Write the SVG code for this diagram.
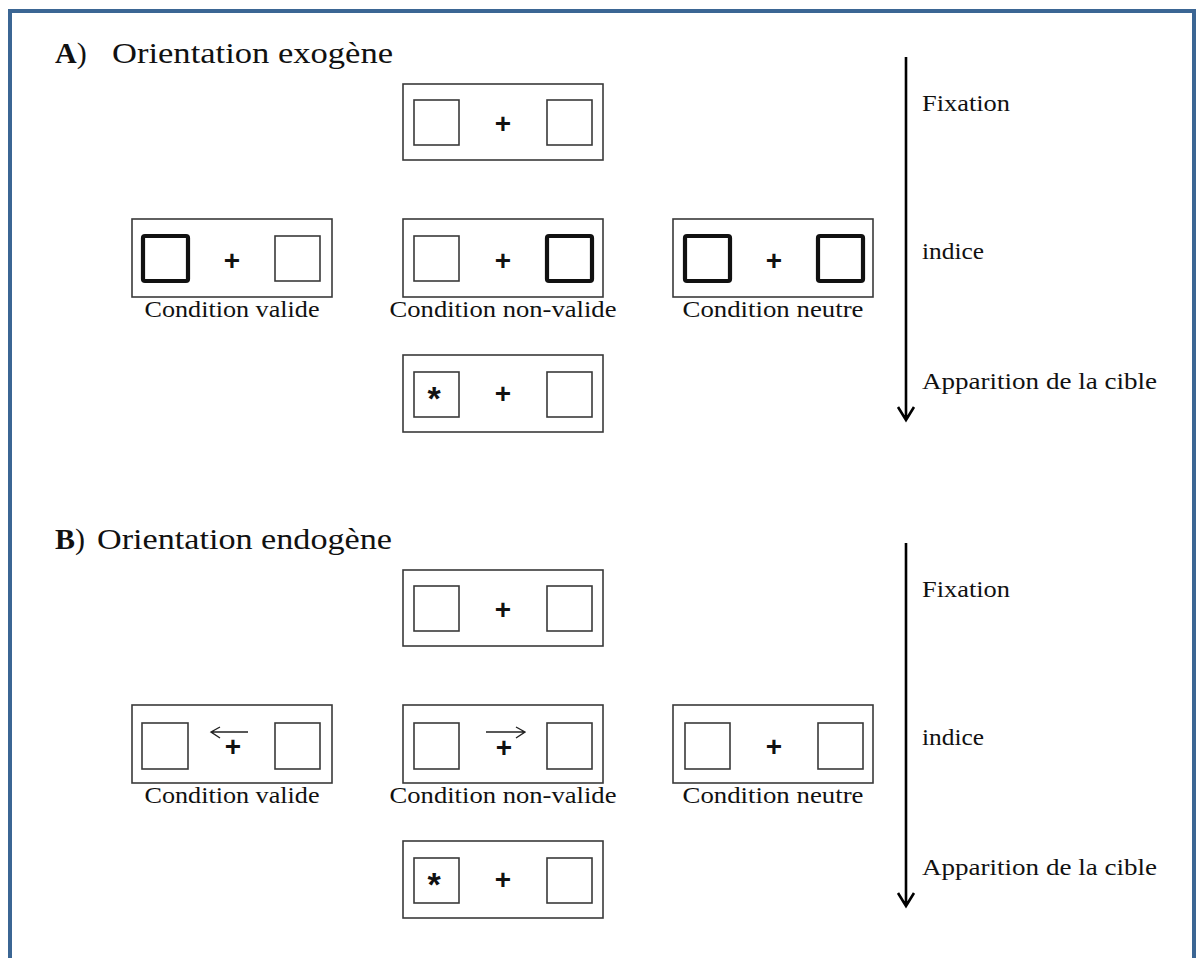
<svg xmlns="http://www.w3.org/2000/svg" width="1197" height="958" viewBox="0 0 1197 958">
<style>
.t{font-family:"Liberation Serif","Times New Roman",serif;fill:#111}
.ttl{font-size:30px}
.lbl{font-size:23px}
.box{fill:#fff;stroke:#3a3a3a;stroke-width:1.6}
.sq{fill:#fff;stroke:#3a3a3a;stroke-width:1.6}
.sqb{fill:#fff;stroke:#111;stroke-width:4.2}
.pl{font-family:"Liberation Sans",Arial,sans-serif;font-weight:bold;font-size:28px;fill:#111;text-anchor:middle}
.ast{font-family:"Liberation Sans",Arial,sans-serif;font-weight:bold;font-size:34px;fill:#111;text-anchor:middle}
.cue{stroke:#222;stroke-width:1.4;fill:none}
.tl{stroke:#000;stroke-width:2.6;fill:none}
</style>
<rect x="0" y="0" width="1197" height="958" fill="#fff"/>
<path d="M10,958 V11 H1194 V958" fill="none" stroke="#3b6694" stroke-width="4"/>

<g id="titleA"><text class="t ttl" y="63"><tspan x="55" font-weight="bold">A</tspan><tspan>)</tspan><tspan x="112" textLength="281" lengthAdjust="spacingAndGlyphs">Orientation exogène</tspan></text></g>
<g id="titleB"><text class="t ttl" y="549"><tspan x="55" font-weight="bold">B</tspan><tspan>)</tspan><tspan x="97" textLength="295" lengthAdjust="spacingAndGlyphs">Orientation endogène</tspan></text></g>

<!-- Section A -->
<g id="A-fixation">
<rect class="box" x="403" y="84" width="200" height="76"/>
<rect class="sq" x="414" y="100" width="45" height="45"/>
<rect class="sq" x="547" y="100" width="45" height="45"/>
<text class="pl" x="503" y="133">+</text>
</g>
<g id="A-valide">
<rect class="box" x="132" y="219" width="200" height="78"/>
<rect class="sqb" x="143" y="236" width="45" height="45" rx="2"/>
<rect class="sq" x="275" y="236" width="45" height="45"/>
<text class="pl" x="232" y="270">+</text>
<text class="t lbl" x="232" y="317" text-anchor="middle" textLength="175" lengthAdjust="spacingAndGlyphs">Condition valide</text>
</g>
<g id="A-nonvalide">
<rect class="box" x="403" y="219" width="200" height="78"/>
<rect class="sq" x="414" y="236" width="45" height="45"/>
<rect class="sqb" x="547" y="236" width="45" height="45" rx="2"/>
<text class="pl" x="503" y="270">+</text>
<text class="t lbl" x="503" y="317" text-anchor="middle" textLength="227" lengthAdjust="spacingAndGlyphs">Condition non-valide</text>
</g>
<g id="A-neutre">
<rect class="box" x="673" y="219" width="200" height="78"/>
<rect class="sqb" x="685" y="236" width="45" height="45" rx="2"/>
<rect class="sqb" x="818" y="236" width="45" height="45" rx="2"/>
<text class="pl" x="774" y="270">+</text>
<text class="t lbl" x="773" y="317" text-anchor="middle" textLength="181" lengthAdjust="spacingAndGlyphs">Condition neutre</text>
</g>
<g id="A-cible">
<rect class="box" x="403" y="355" width="200" height="77"/>
<rect class="sq" x="414" y="372" width="45" height="45"/>
<rect class="sq" x="547" y="372" width="45" height="45"/>
<text class="ast" x="434" y="410">*</text>
<text class="pl" x="503" y="403">+</text>
</g>
<g id="A-timeline">
<text class="t lbl" x="922" y="111" textLength="88" lengthAdjust="spacingAndGlyphs">Fixation</text>
<text class="t lbl" x="922" y="259" textLength="62" lengthAdjust="spacingAndGlyphs">indice</text>
<text class="t lbl" x="922" y="389" textLength="235" lengthAdjust="spacingAndGlyphs">Apparition de la cible</text>
</g>

<!-- Section B -->
<g id="B-fixation">
<rect class="box" x="403" y="570" width="200" height="76"/>
<rect class="sq" x="414" y="586" width="45" height="45"/>
<rect class="sq" x="547" y="586" width="45" height="45"/>
<text class="pl" x="503" y="619">+</text>
</g>
<g id="B-valide">
<rect class="box" x="132" y="705" width="200" height="78"/>
<rect class="sq" x="142" y="723" width="46" height="46"/>
<rect class="sq" x="275" y="723" width="45" height="46"/>
<path class="cue" d="M248,732 H211 M220,727 L211,732 L220,738"/>
<text class="pl" x="233" y="756">+</text>
<text class="t lbl" x="232" y="803" text-anchor="middle" textLength="175" lengthAdjust="spacingAndGlyphs">Condition valide</text>
</g>
<g id="B-nonvalide">
<rect class="box" x="403" y="705" width="200" height="78"/>
<rect class="sq" x="414" y="723" width="45" height="46"/>
<rect class="sq" x="547" y="723" width="45" height="46"/>
<path class="cue" d="M486,732 H525 M516,727 L525,732 L516,738"/>
<text class="pl" x="504" y="757">+</text>
<text class="t lbl" x="503" y="803" text-anchor="middle" textLength="227" lengthAdjust="spacingAndGlyphs">Condition non-valide</text>
</g>
<g id="B-neutre">
<rect class="box" x="673" y="705" width="200" height="78"/>
<rect class="sq" x="685" y="723" width="45" height="46"/>
<rect class="sq" x="818" y="723" width="45" height="46"/>
<text class="pl" x="774" y="756">+</text>
<text class="t lbl" x="773" y="803" text-anchor="middle" textLength="181" lengthAdjust="spacingAndGlyphs">Condition neutre</text>
</g>
<g id="B-cible">
<rect class="box" x="403" y="841" width="200" height="77"/>
<rect class="sq" x="414" y="858" width="45" height="45"/>
<rect class="sq" x="547" y="858" width="45" height="45"/>
<text class="ast" x="434" y="896">*</text>
<text class="pl" x="503" y="889">+</text>
</g>
<g id="B-timeline">
<text class="t lbl" x="922" y="597" textLength="88" lengthAdjust="spacingAndGlyphs">Fixation</text>
<text class="t lbl" x="922" y="745" textLength="62" lengthAdjust="spacingAndGlyphs">indice</text>
<text class="t lbl" x="922" y="875" textLength="235" lengthAdjust="spacingAndGlyphs">Apparition de la cible</text>
</g>

<g id="connectors">
<path class="tl" d="M906,57 V420 M898,407 L906,420 L914,407"/>
<path class="tl" d="M906,543 V906 M898,893 L906,906 L914,893"/>
</g>
</svg>
